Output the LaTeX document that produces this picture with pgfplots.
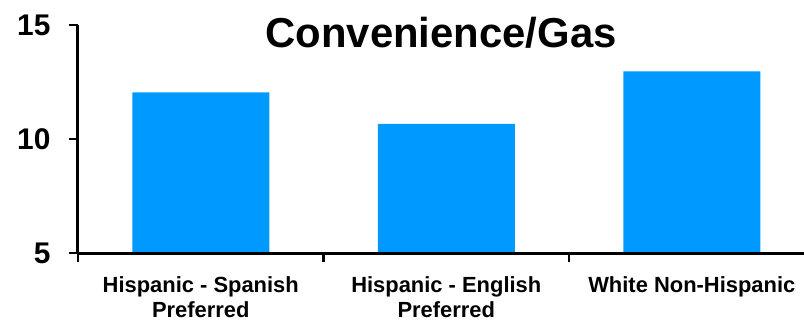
\documentclass[border=0pt]{standalone}
\usepackage{fontspec}
\setmainfont{Liberation Sans}
\usepackage{pgfplots}
\pgfplotsset{compat=1.18}
\definecolor{barblue}{RGB}{0,153,255}
\begin{document}
\begin{tikzpicture}
\begin{axis}[
  scale only axis,
  width=726bp, height=228bp,
  xmin=-0.5, xmax=2.457,
  ymin=5, ymax=15,
  axis lines*=left,
  axis line style={line width=3bp, black},
  axis on top,
  ybar, bar width=137bp,
  ytick={5,10,15},
  xtick={-0.5,0.5,1.5},
  xticklabels={},
  tick style={line width=2.5bp, black},
  tick align=outside,
  major tick length=9bp,
  extra x ticks={0,1,2},
  extra x tick labels={{Hispanic - Spanish\\Preferred},{Hispanic - English\\Preferred},{White Non-Hispanic}},
  extra x tick style={major tick length=0pt},
  /pgf/number format/assume math mode=true,
  yticklabel style={font=\fontsize{30}{30}\selectfont\bfseries, xshift=-15bp},
  xticklabel style={font=\fontsize{22}{25}\selectfont\bfseries, align=center, yshift=-20bp},
]
\addplot[fill=barblue, draw=none] coordinates {(0,12.05) (1,10.66) (2,12.97)};
\coordinate (T) at (rel axis cs:0.5,1);
\end{axis}
\node[anchor=base, font=\fontsize{42}{42}\selectfont\bfseries] at ([yshift=-23bp]T) {Convenience/Gas};
\pgfresetboundingbox
\useasboundingbox (-78bp,-70bp) rectangle (726bp,253bp);
\end{tikzpicture}
\end{document}
